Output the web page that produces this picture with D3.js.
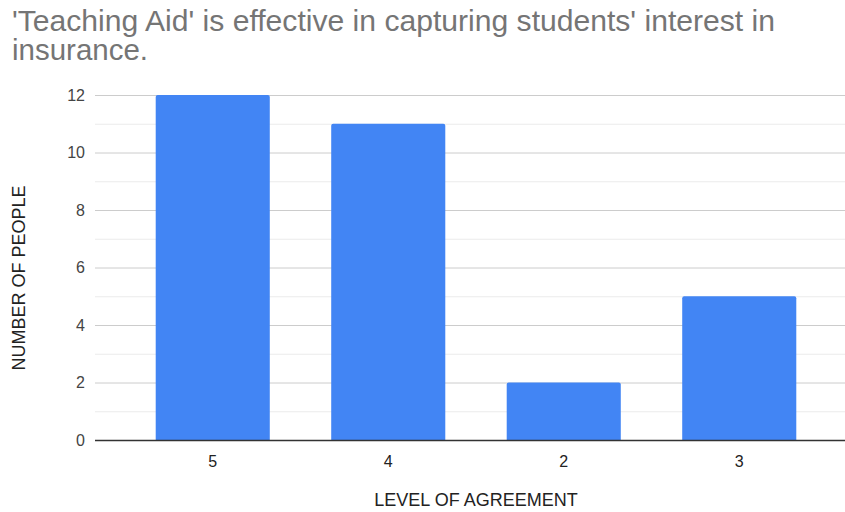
<!DOCTYPE html>
<html>
<head>
<meta charset="utf-8">
<script src="https://cdn.jsdelivr.net/npm/d3@7"></script>
<style>
  body { margin: 0; background: #fff; }
  text { font-family: "Liberation Sans", Arial, sans-serif; }
</style>
</head>
<body>
<div id="chart"></div>
<script>
// data
var categories = ["5", "4", "2", "3"];
var counts = [12, 11, 2, 5];
var yTicks = [0, 2, 4, 6, 8, 10, 12];
var titleLines = ["'Teaching Aid' is effective in capturing students' interest in", "insurance."];

var width = 845, height = 512;

var svg = d3.select("#chart").append("svg")
    .attr("width", width)
    .attr("height", height);

var y = d3.scaleLinear().domain([0, 12]).range([440, 95]);
var x = d3.scaleBand().domain(categories).range([125, 827])
    .paddingInner(0.35).paddingOuter(0.175);

// gridlines, odd values lighter
svg.append("g").selectAll("line")
    .data(d3.range(1, 13))
    .enter().append("line")
    .attr("x1", 95).attr("x2", 845)
    .attr("y1", function(d) { return y(d) + 0.5; })
    .attr("y2", function(d) { return y(d) + 0.5; })
    .attr("stroke", function(d) { return d % 2 ? "#ebebeb" : "#cccccc"; })
    .attr("stroke-width", 1);

// bars with slightly rounded tops
svg.append("g").selectAll("path")
    .data(counts)
    .enter().append("path")
    .attr("fill", "#4285f4")
    .attr("d", function(d, i) {
        var x0 = x(categories[i]), w = x.bandwidth(), top = y(d), bot = y(0), r = 2;
        return "M" + x0 + "," + bot + "V" + (top + r) + "Q" + x0 + "," + top + " " + (x0 + r) + "," + top
            + "H" + (x0 + w - r) + "Q" + (x0 + w) + "," + top + " " + (x0 + w) + "," + (top + r)
            + "V" + bot + "Z";
    });

// baseline
svg.append("line")
    .attr("x1", 95).attr("x2", 845)
    .attr("y1", y(0) + 0.5).attr("y2", y(0) + 0.5)
    .attr("stroke", "#333").attr("stroke-width", 1.5);

// y tick labels
svg.append("g").selectAll("text")
    .data(yTicks)
    .enter().append("text")
    .attr("x", 85)
    .attr("y", function(d) { return y(d) + 5.5; })
    .attr("text-anchor", "end")
    .attr("font-size", 16)
    .attr("fill", "#444")
    .text(function(d) { return d; });

// x tick labels
svg.append("g").selectAll("text")
    .data(categories)
    .enter().append("text")
    .attr("x", function(d) { return x(d) + x.bandwidth() / 2; })
    .attr("y", 467)
    .attr("text-anchor", "middle")
    .attr("font-size", 16)
    .attr("fill", "#222")
    .text(function(d) { return d; });

// axis titles
svg.append("text")
    .attr("x", 476).attr("y", 506)
    .attr("text-anchor", "middle")
    .attr("font-size", 18)
    .attr("fill", "#222")
    .text("LEVEL OF AGREEMENT");

svg.append("text")
    .attr("transform", "translate(25,278) rotate(-90)")
    .attr("text-anchor", "middle")
    .attr("font-size", 18)
    .attr("fill", "#222")
    .text("NUMBER OF PEOPLE");

// title
svg.append("text")
    .attr("x", 12).attr("y", 31)
    .attr("font-size", 29)
    .attr("fill", "#757575")
    .attr("textLength", 763)
    .attr("lengthAdjust", "spacingAndGlyphs")
    .text(titleLines[0]);

svg.append("text")
    .attr("x", 12).attr("y", 60)
    .attr("font-size", 29)
    .attr("fill", "#757575")
    .attr("textLength", 136)
    .attr("lengthAdjust", "spacingAndGlyphs")
    .text(titleLines[1]);
</script>
</body>
</html>
